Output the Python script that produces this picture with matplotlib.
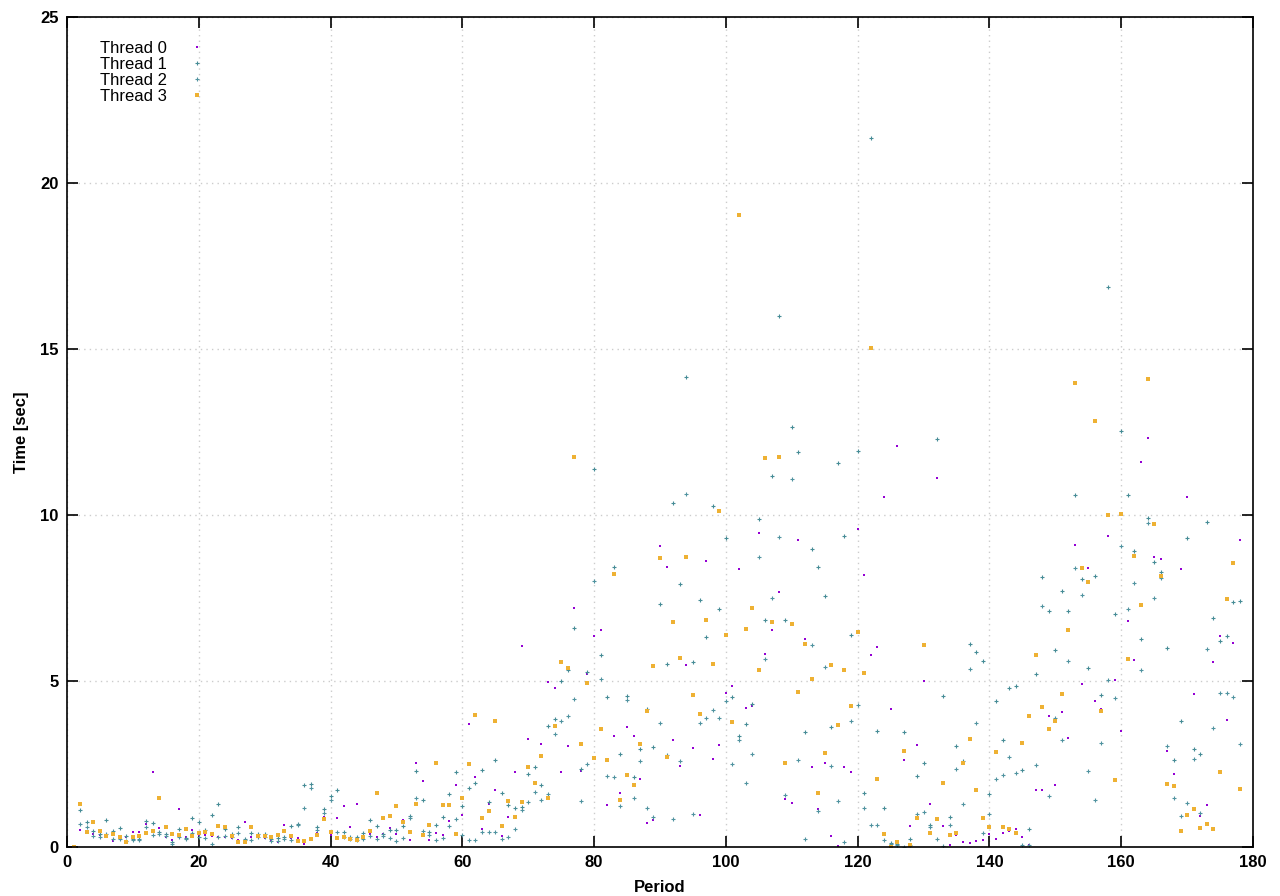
import numpy as np
import matplotlib
matplotlib.use("Agg")
import matplotlib.pyplot as plt

plt.rcParams['font.family'] = ['Liberation Sans', 'DejaVu Sans']

period = np.arange(1, 179)

thread0 = [0.00, 0.50, 0.45, 0.38, 0.35, 0.30, 0.17, 0.30, 0.29, 0.44,
           0.44, 0.68, 2.25, 0.56, 0.30, 0.20, 1.13, 0.30, 0.50, 0.35,
           0.35, 0.32, 0.30, 0.30, 0.26, 0.20, 0.74, 0.30, 0.30, 0.26,
           0.20, 0.15, 0.65, 0.26, 0.26, 0.10, 0.20, 0.41, 0.89, 0.35,
           0.86, 1.22, 0.59, 1.29, 0.30, 0.40, 0.30, 0.40, 0.56, 0.38,
           0.80, 0.20, 2.52, 1.98, 0.20, 0.41, 0.35, 0.77, 1.86, 0.95,
           3.69, 2.10, 0.53, 1.29, 1.71, 0.32, 0.90, 2.25, 6.04, 3.24,
           1.90, 3.09, 4.96, 4.78, 2.25, 3.05, 7.19, 2.30, 5.20, 6.35,
           6.53, 1.26, 3.33, 1.62, 3.60, 3.33, 2.04, 0.71, 0.80, 9.06,
           8.42, 3.22, 2.43, 5.48, 2.97, 0.95, 8.60, 2.64, 3.06, 4.63,
           4.85, 8.36, 4.19, 4.25, 9.45, 5.82, 6.54, 7.67, 1.46, 1.31,
           9.26, 6.27, 2.40, 1.13, 2.52, 0.32, 0.04, 2.40, 2.25, 9.57,
           8.18, 5.79, 6.03, 10.53, 4.16, 12.08, 2.61, 0.62, 3.06, 5.01,
           1.28, 11.11, 0.62, 0.07, 0.35, 0.14, 0.11, 0.17, 0.20, 0.39,
           0.25, 0.43, 0.47, 0.53, 0.29, 0.05, 1.71, 1.71, 3.94, 1.86,
           4.06, 3.28, 9.11, 4.91, 8.41, 4.39, 4.16, 9.37, 5.03, 3.49,
           6.82, 5.63, 11.59, 12.33, 8.72, 8.68, 2.90, 2.19, 8.38, 10.53,
           4.61, 0.93, 1.25, 5.58, 6.36, 3.82, 6.15, 9.25]

thread1 = [0.00, 1.10, 0.74, 0.47, 0.38, 0.80, 0.47, 0.56, 0.32, 0.23,
           0.23, 0.77, 0.71, 0.44, 0.38, 0.14, 0.53, 0.26, 0.86, 0.74,
           0.50, 0.95, 1.29, 0.53, 0.38, 0.59, 0.23, 0.41, 0.38, 0.38,
           0.25, 0.26, 0.29, 0.62, 0.68, 1.86, 1.89, 0.59, 1.13, 1.53,
           1.71, 0.44, 0.29, 0.29, 0.41, 0.80, 0.62, 0.38, 0.50, 0.50,
           0.62, 0.92, 2.28, 1.41, 0.44, 0.65, 0.89, 1.59, 2.25, 1.22,
           1.77, 1.92, 2.31, 1.35, 2.61, 1.62, 1.26, 1.16, 1.20, 2.19,
           2.40, 1.86, 3.63, 3.85, 5.01, 5.32, 6.59, 2.34, 5.26, 11.38,
           5.77, 4.51, 8.42, 2.79, 4.54, 2.10, 2.94, 4.15, 3.00, 7.31,
           5.52, 10.37, 7.93, 14.17, 5.58, 7.44, 6.33, 10.26, 7.18, 9.32,
           4.52, 3.34, 3.70, 4.32, 9.89, 6.84, 11.17, 16.00, 6.84, 12.65,
           11.90, 3.46, 8.99, 8.42, 7.57, 3.61, 11.56, 9.38, 6.39, 11.93,
           1.64, 21.35, 3.49, 1.16, 0.13, 0.10, 3.46, 0.25, 2.13, 2.52,
           0.65, 12.29, 4.55, 0.89, 3.03, 2.58, 6.12, 5.87, 5.61, 1.61,
           4.40, 3.21, 4.79, 4.85, 2.31, 0.53, 5.21, 8.14, 7.12, 5.94,
           7.71, 7.12, 10.59, 8.08, 5.40, 8.17, 4.58, 16.87, 7.02, 12.53,
           10.59, 8.93, 6.27, 9.90, 8.57, 8.28, 6.00, 2.61, 3.79, 9.30,
           2.95, 2.79, 9.80, 6.89, 6.21, 6.36, 7.39, 7.42]

thread2 = [0.00, 0.68, 0.59, 0.32, 0.29, 0.38, 0.23, 0.23, 0.17, 0.20,
           0.20, 0.59, 0.35, 0.38, 0.32, 0.10, 0.30, 0.23, 0.41, 0.30,
           0.26, 0.08, 0.29, 0.32, 0.30, 0.41, 0.20, 0.20, 0.30, 0.30,
           0.17, 0.17, 0.25, 0.20, 0.65, 1.16, 1.77, 0.50, 1.01, 1.41,
           0.44, 0.30, 0.25, 0.20, 0.23, 0.32, 0.23, 0.32, 0.26, 0.17,
           0.26, 0.86, 1.47, 0.47, 0.35, 0.20, 0.26, 0.62, 0.83, 0.35,
           0.21, 0.21, 0.44, 0.44, 0.44, 0.24, 0.31, 0.53, 1.10, 1.35,
           1.65, 1.41, 1.60, 3.39, 3.79, 3.94, 4.45, 1.38, 2.49, 8.00,
           5.05, 2.13, 2.10, 1.22, 4.42, 1.47, 2.58, 1.16, 0.89, 3.72,
           2.77, 0.84, 2.59, 10.63, 0.98, 3.74, 3.88, 4.13, 3.88, 4.40,
           2.49, 3.21, 1.92, 2.79, 8.75, 5.66, 7.51, 9.35, 1.56, 11.08,
           2.62, 0.25, 6.09, 1.07, 5.43, 2.43, 1.40, 0.14, 3.80, 4.27,
           1.16, 0.66, 0.65, 0.20, 0.08, 0.06, 0.00, 0.05, 0.98, 1.04,
           0.61, 0.25, 0.04, 0.65, 2.34, 1.28, 5.37, 3.73, 0.43, 0.98,
           2.04, 2.16, 2.70, 2.22, 0.07, 0.07, 2.46, 7.26, 1.53, 3.88,
           3.21, 5.61, 8.39, 7.60, 2.28, 1.41, 3.13, 5.03, 4.49, 9.07,
           7.17, 7.96, 5.33, 9.77, 7.51, 8.10, 3.04, 1.47, 0.93, 1.32,
           2.65, 1.02, 5.97, 3.59, 4.65, 4.65, 4.51, 3.09]

thread3 = [0.00, 1.29, 0.44, 0.74, 0.47, 0.32, 0.38, 0.29, 0.14, 0.29,
           0.32, 0.41, 0.47, 1.47, 0.59, 0.38, 0.35, 0.53, 0.32, 0.41,
           0.44, 0.38, 0.62, 0.59, 0.32, 0.14, 0.14, 0.59, 0.32, 0.32,
           0.29, 0.35, 0.47, 0.32, 0.17, 0.17, 0.23, 0.35, 0.83, 0.44,
           0.26, 0.29, 0.23, 0.20, 0.29, 0.47, 1.62, 0.86, 0.92, 1.22,
           0.74, 0.44, 1.29, 0.35, 0.65, 2.52, 1.26, 1.26, 0.38, 1.47,
           2.49, 3.97, 0.86, 1.07, 3.79, 0.62, 1.38, 0.89, 1.35, 2.40,
           1.92, 2.73, 1.47, 3.63, 5.56, 5.38, 11.76, 3.09, 4.93, 2.67,
           3.54, 2.61, 8.21, 1.41, 2.16, 1.86, 3.09, 4.09, 5.44, 8.69,
           2.70, 6.78, 5.69, 8.75, 4.58, 4.01, 6.85, 5.51, 10.11, 6.39,
           3.76, 19.05, 6.57, 7.21, 5.33, 11.72, 6.79, 11.75, 2.52, 6.72,
           4.67, 6.12, 5.06, 1.62, 2.83, 5.48, 3.67, 5.33, 4.25, 6.47,
           5.25, 15.04, 2.04, 0.38, 0.01, 0.16, 2.88, 0.07, 0.86, 6.09,
           0.43, 0.83, 1.92, 0.35, 0.43, 2.52, 3.24, 1.71, 0.86, 0.59,
           2.85, 0.59, 0.55, 0.43, 3.13, 3.94, 5.79, 4.22, 3.55, 3.80,
           4.61, 6.54, 13.98, 8.39, 7.99, 12.82, 4.10, 10.01, 2.01, 10.04,
           5.66, 8.78, 7.30, 14.10, 9.73, 8.17, 1.89, 1.83, 0.47, 0.96,
           1.14, 0.56, 0.68, 0.53, 2.25, 7.47, 8.56, 1.74]

fig = plt.figure(figsize=(12.8, 8.96), dpi=100)
ax = fig.add_axes([0.0523, 0.0547, 0.9266, 0.9263])

ax.plot(period, thread0, ls='none', marker='s', ms=1.5, mew=0, color='#9400d3', label='Thread 0')
ax.plot(period, thread1, ls='none', marker='+', ms=3.2, mew=0.8, color='#468c96', label='Thread 1')
ax.plot(period, thread2, ls='none', marker='+', ms=3.2, mew=0.8, color='#5093a0', label='Thread 2')
ax.plot(period, thread3, ls='none', marker='s', ms=2.8, mew=0, color='#eeb133', label='Thread 3')

ax.set_xlim(0, 180)
ax.set_ylim(0, 25)
ax.set_xticks(np.arange(0, 181, 20))
ax.set_yticks(np.arange(0, 26, 5))
ax.tick_params(direction='in', length=8, width=1.2, top=True, right=True,
               labelsize=12, pad=6)
for lab in ax.get_xticklabels() + ax.get_yticklabels():
    lab.set_fontweight('bold')
for s in ax.spines.values():
    s.set_linewidth(1.2)
ax.grid(True, color='#cccccc', linestyle=(0, (1, 3)), linewidth=1)
ax.set_axisbelow(True)

ax.set_xlabel('Period', fontsize=12, fontweight='bold', labelpad=7)
ax.set_ylabel('Time [sec]', fontsize=12, fontweight='bold', labelpad=8)

ax.legend(loc='upper left', bbox_to_anchor=(0.018, 0.985), frameon=False,
          markerfirst=False, fontsize=12, handlelength=1.5, handletextpad=1.05,
          labelspacing=0.05, borderpad=0.2)

fig.savefig('out.png', dpi=100)
